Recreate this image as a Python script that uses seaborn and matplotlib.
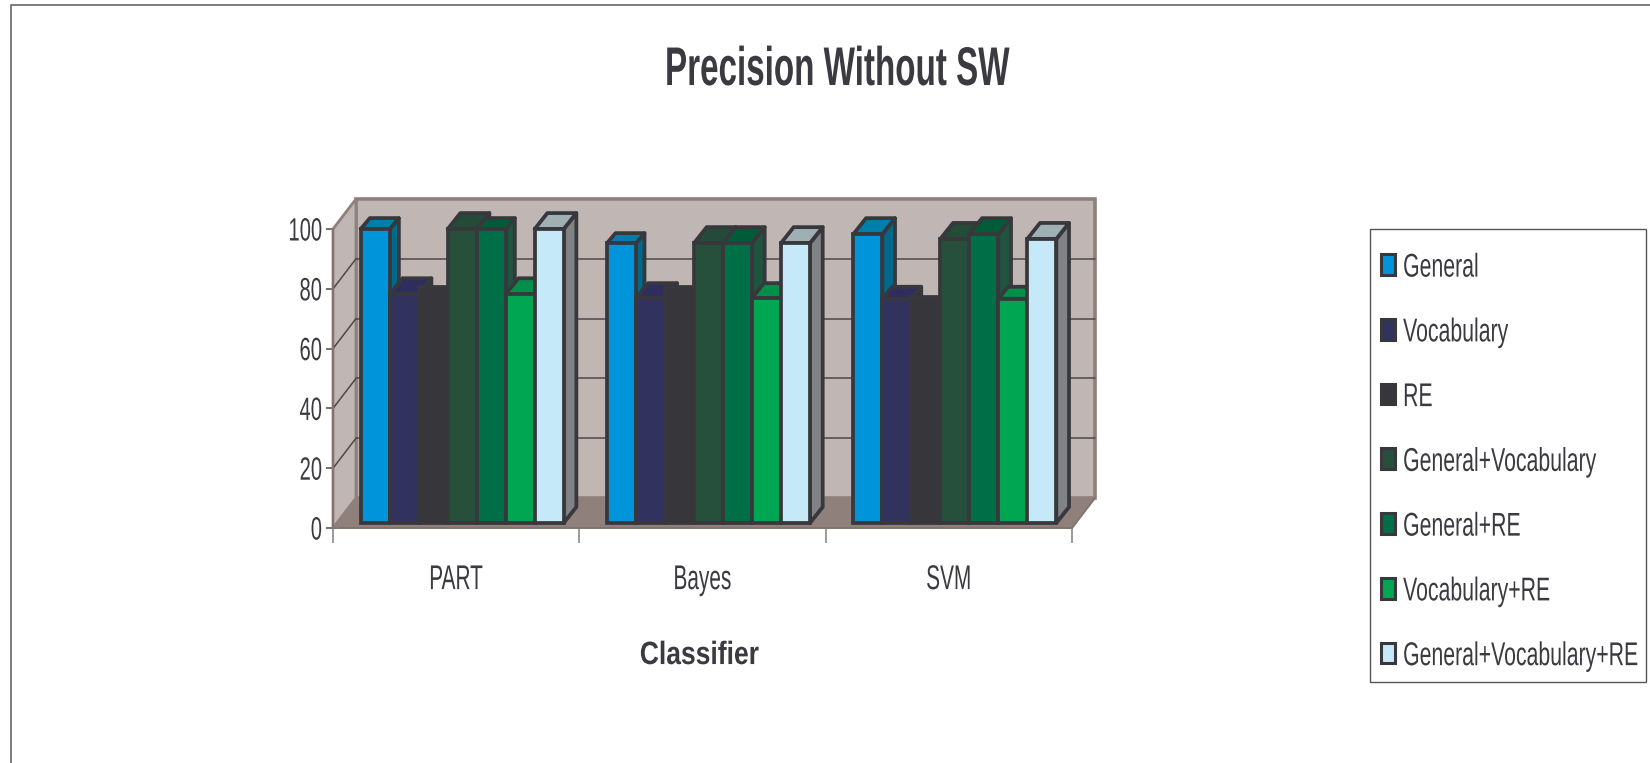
import matplotlib
matplotlib.use("Agg")
import matplotlib.pyplot as plt
import matplotlib.patheffects as pe
from matplotlib.lines import Line2D
from matplotlib.patches import Patch, Polygon, Rectangle
from matplotlib.transforms import Affine2D, IdentityTransform
import pandas as pd
import seaborn as sns

# Precision per classifier and feature set
classifiers = ["PART", "Bayes", "SVM"]
feature_sets = ["General", "Vocabulary", "RE", "General+Vocabulary",
                "General+RE", "Vocabulary+RE", "General+Vocabulary+RE"]
general = [98.3, 93.6, 96.6]
vocabulary = [76.5, 75.2, 75.0]
re_only = [79.0, 79.0, 75.5]
general_vocabulary = [98.3, 93.6, 95.0]
general_re = [98.3, 93.6, 96.6]
vocabulary_re = [76.5, 75.2, 75.0]
general_vocabulary_re = [98.3, 93.6, 95.0]
series = [general, vocabulary, re_only, general_vocabulary,
          general_re, vocabulary_re, general_vocabulary_re]

y_ticks = [0, 20, 40, 60, 80, 100]

# Bar face colours
front_colors = ["#0095da", "#32325f", "#37363b", "#264f3c", "#006e46", "#00a651", "#c6e9fa"]
side_colors = ["#00688a", "#2a2a55", "#37363b", "#1f4534", "#1f5440", "#006e3a", "#808285"]
top_colors = ["#007fae", "#2e2d60", "#37363b", "#244a38", "#005c38", "#00904a", "#9fb0b5"]
# Height of the extruded top of each bar, in pixels (row per classifier)
top_rise = [[11, 16, 0, 16, 11, 16, 16],
            [10, 15, 0, 16, 16, 15, 16],
            [16, 12, 0, 16, 16, 12, 16]]

INK = "#3a3a40"
OUTLINE = "#38383c"
WALL = "#c0b6b3"
FLOOR = "#8f807b"
WIDTH, HEIGHT = 1650, 763


class Stretch(pe.AbstractPathEffect):
    """Scale a text's glyphs about its baseline, giving the condensed look."""

    def __init__(self, sx=1.0, sy=1.0, dy=0.0):
        super().__init__()
        self.sx, self.sy, self.dy = sx, sy, dy

    def draw_path(self, renderer, gc, tpath, affine, rgbFace=None):
        box = tpath.get_extents(affine)
        x0 = (box.x0 + box.x1) / 2
        y0 = affine.transform((0, 0))[1]
        scaled = affine + (Affine2D().translate(-x0, -y0).scale(self.sx, self.sy)
                           .translate(x0, y0 + self.dy))
        renderer.draw_path(gc, tpath, scaled, rgbFace)


sns.set_theme(style="white")
plt.rcParams["font.family"] = ["Liberation Sans", "DejaVu Sans"]

fig = plt.figure(figsize=(WIDTH / 100, HEIGHT / 100), dpi=100, facecolor="white")
ax = fig.add_axes([333 / WIDTH, (HEIGHT - 528) / HEIGHT, 739 / WIDTH, 299 / HEIGHT])
ax.patch.set_visible(False)

df = pd.DataFrame({
    "Classifier": [c for _ in feature_sets for c in classifiers],
    "Feature set": [f for f in feature_sets for _ in classifiers],
    "Precision": [v for s in series for v in s],
})
sns.barplot(data=df, x="Classifier", y="Precision", hue="Feature set",
            hue_order=feature_sets, palette=front_colors, saturation=1,
            width=0.824, gap=0, edgecolor=OUTLINE, linewidth=2.7, errorbar=None,
            ax=ax, legend=False)
ax.set_xlim(-0.5, 2.5)
ax.set_ylim(0, 100)

# Box walls, set back behind the plotting plane
DEPTH_X, DEPTH_Y = 23, 30
to_px = ax.transData.transform
left, right = -0.5, 2.5
(x_l, y_b), (x_r, y_t) = to_px((left, 0)), to_px((right, 100))
wall_kw = dict(transform=IdentityTransform(), clip_on=False)
ax.add_patch(Polygon([(x_l + DEPTH_X, y_b + DEPTH_Y), (x_r + DEPTH_X, y_b + DEPTH_Y),
                      (x_r + DEPTH_X, y_t + DEPTH_Y), (x_l + DEPTH_X, y_t + DEPTH_Y)],
                     fc=WALL, ec=FLOOR, lw=2.6, joinstyle="miter", zorder=0.5, **wall_kw))
ax.add_patch(Polygon([(x_l, y_b), (x_l + DEPTH_X, y_b + DEPTH_Y),
                      (x_l + DEPTH_X, y_t + DEPTH_Y), (x_l, y_t)],
                     fc=WALL, ec=FLOOR, lw=2.0, zorder=0.6, **wall_kw))
ax.add_patch(Polygon([(x_l, y_b), (x_r, y_b), (x_r + DEPTH_X, y_b + DEPTH_Y),
                      (x_l + DEPTH_X, y_b + DEPTH_Y)],
                     fc=FLOOR, ec="none", zorder=0.7, **wall_kw))
ax.add_line(Line2D([x_r, x_r + DEPTH_X], [y_b, y_b + DEPTH_Y], color="#7f7470", lw=1.4,
                   zorder=0.8, **wall_kw))

# Gridlines across the back wall and down the side wall
for v in y_ticks[1:-1]:
    _, y = to_px((left, v))
    ax.add_line(Line2D([x_l + DEPTH_X, x_r + DEPTH_X], [y + DEPTH_Y, y + DEPTH_Y],
                       color="#4e4848", lw=1.1, zorder=0.9, **wall_kw))
    ax.add_line(Line2D([x_l, x_l + DEPTH_X], [y, y + DEPTH_Y],
                       color="#4e4848", lw=1.1, zorder=0.9, **wall_kw))

# Extruded faces, painted left to right so nearer bars overlap their neighbours
BAR_DX, BAR_DY = 6, 5
shift = Affine2D().translate(BAR_DX, BAR_DY)
for h, container in enumerate(ax.containers):
    for g, bar in enumerate(container):
        z = 3 + h * 0.1
        bar.set_transform(ax.transData + shift)
        bar.set_zorder(z + 0.05)
        bar.set_clip_on(False)
        bar.set_joinstyle("miter")
        rise = top_rise[g][h]
        if not rise:
            continue
        run = rise * 0.7 + 1.5
        x0, y0 = to_px((bar.get_x(), 0))
        x1, y1 = to_px((bar.get_x() + bar.get_width(), bar.get_height()))
        x0, x1, y0, y1 = x0 + BAR_DX, x1 + BAR_DX, y0 + BAR_DY, y1 + BAR_DY
        face_kw = dict(ec=OUTLINE, lw=2.7, joinstyle="round", zorder=z, **wall_kw)
        ax.add_patch(Polygon([(x1, y0), (x1 + run, y0 + rise), (x1 + run, y1 + rise), (x1, y1)],
                             fc=side_colors[h], **face_kw))
        ax.add_patch(Polygon([(x0, y1), (x1, y1), (x1 + run, y1 + rise), (x0 + run, y1 + rise)],
                             fc=top_colors[h], **face_kw))

# Axes furniture
sns.despine(ax=ax)
for side in ("left", "bottom"):
    ax.spines[side].set_color("#7f7470")
    ax.spines[side].set_linewidth(1.4)
    ax.spines[side].set_zorder(2)
ax.set_xticks(range(len(classifiers)), classifiers)
ax.set_xticks([-0.5, 0.5, 1.5, 2.5], minor=True)
ax.set_yticks(y_ticks)
ax.tick_params(axis="x", which="major", length=0, pad=44, labelsize=15, labelcolor=INK)
ax.tick_params(axis="x", which="minor", bottom=True, length=11, width=1.2, color="#8a8a8a")
ax.tick_params(axis="y", length=5, width=1.1, color="#4e4848", pad=3, labelsize=14.5,
               labelcolor=INK, left=True)
for label in ax.get_xticklabels():
    label.set_va("baseline")
    label.set_path_effects([Stretch(sy=1.65)])
for label in ax.get_yticklabels():
    label.set_va("baseline")
    label.set_path_effects([Stretch(sy=1.6, dy=-11.5)])

ax.set_ylabel("")
ax.set_xlabel("Classifier", fontsize=15.5, fontweight="bold", color=INK, va="baseline")
ax.xaxis.set_label_coords(0.496, -0.455)
ax.xaxis.label.set_path_effects([Stretch(sx=1.23, sy=1.5)])

title = fig.text(836.5 / WIDTH, (HEIGHT - 85) / HEIGHT, "Precision Without SW", ha="center",
                 va="baseline", fontsize=23.9, fontweight="bold", color=INK)
title.set_path_effects([Stretch(sy=1.64)])

# Legend on its own framed panel
fig.add_artist(Rectangle((1370 / WIDTH, (HEIGHT - 682) / HEIGHT), 276 / WIDTH, 453 / HEIGHT,
                         transform=fig.transFigure, fc="white", ec="#555555", lw=1.0,
                         zorder=-1))
handles = [Patch(fc=c, ec=OUTLINE, lw=2.2) for c in front_colors]
legend = ax.legend(handles, feature_sets, loc="upper left", frameon=False, fontsize=15.3,
                   bbox_to_anchor=(1381 / WIDTH, (HEIGHT - 254) / HEIGHT),
                   bbox_transform=fig.transFigure, borderpad=0, borderaxespad=0,
                   handlelength=0.66, handleheight=1.13, handletextpad=0.38, labelspacing=2.03)
for text in legend.get_texts():
    text.set_color(INK)
    text.set_path_effects([Stretch(sy=1.55, dy=-5)])
legend.set_zorder(10)

# Page border along the top and left edges
border_y = (HEIGHT - 5) / HEIGHT
fig.add_artist(Line2D([10.5 / WIDTH, 10.5 / WIDTH, 1], [0, border_y, border_y],
                      transform=fig.transFigure, color="#666666", lw=1.2))

fig.savefig("out.png", dpi=100, facecolor="white")
